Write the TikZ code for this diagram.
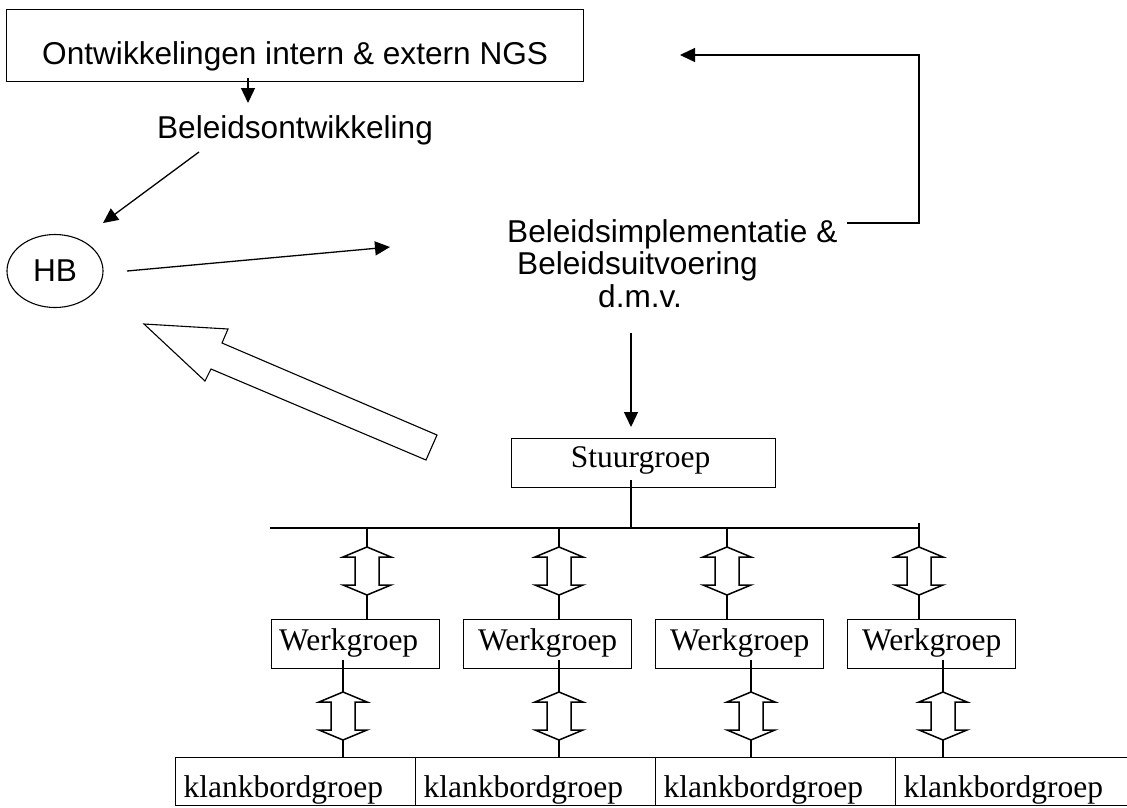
\documentclass[tikz,border=0pt]{standalone}
\usepackage{fontspec}
\setmainfont{Liberation Serif}
\newfontfamily\arialf{Liberation Sans}
\usetikzlibrary{arrows.meta,shapes.geometric}
\newcommand\myupdown[2]{%
  \draw[dbl] (#1,#2) -- ++(-24,10) -- ++(12,0) -- ++(0,28) -- ++(-12,0) -- ++(24,10)
     -- ++(24,-10) -- ++(-12,0) -- ++(0,-28) -- ++(12,0) -- cycle;}
\begin{document}
\begin{tikzpicture}[x=1pt,y=-1pt,
  ln/.style={line width=1.3pt},
  arr/.style={line width=1.3pt,-{Triangle[length=15pt,width=14pt]}},
  dbl/.style={line width=1.5pt, line join=miter},
  sans/.style={font=\arialf\fontsize{31.6}{32.5}\selectfont},
  serif/.style={font=\fontsize{31.5}{36}\selectfont},
  box/.style={draw, line width=1.3pt, rectangle},
  wbox/.style={box, serif, anchor=north west, minimum width=168pt, minimum height=49pt,
     inner xsep=0pt, inner ysep=4pt, text height=27pt, text depth=14pt},
  kcell/.style={box, serif, anchor=north west, minimum width=240pt, minimum height=48pt,
     text width=224pt, align=left, inner xsep=8pt, inner ysep=4pt, text height=36pt, text depth=4pt}
]
\useasboundingbox (0,0) rectangle (1127,807);

% top box
\node[box, sans, anchor=north west, minimum width=577pt, minimum height=72pt,
  inner xsep=0pt, inner ysep=4pt,
  text height=51pt, text depth=13pt] (top) at (6,9) {Ontwikkelingen intern \& extern NGS};

\node[sans, anchor=base, inner sep=0pt] (belo) at (295,138) {Beleidsontwikkeling};

\node[draw, ellipse, line width=1.1pt, minimum width=96pt, minimum height=73pt, inner sep=0pt,
  sans] (hb) at (55,271) {HB};

\node[sans, anchor=north west, align=left, inner sep=0pt] (impl) at (507,219)
  {Beleidsimplementatie \&\\\hspace*{10pt}Beleidsuitvoering\\\hspace*{91pt}d.m.v.};

\node[box, serif, anchor=north west, minimum width=264pt, minimum height=49pt,
  inner xsep=0pt, inner ysep=4pt, text height=25pt, text depth=16pt] (stuur) at (511,438) {Stuurgroep\hspace*{6pt}};

\node[wbox] (w1) at (271,619) {Werkgroep\hspace*{14pt}};
\node[wbox] (w2) at (463,619) {Werkgroep};
\node[wbox] (w3) at (655,619) {Werkgroep};
\node[wbox] (w4) at (847,619) {Werkgroep};

\node[kcell] (k1) at (175,757) {klankbordgroep};
\node[kcell] (k2) at (415,757) {klankbordgroep};
\node[kcell] (k3) at (655,757) {klankbordgroep};
\node[kcell] (k4) at (895,757) {klankbordgroep};

% connector end points
\coordinate (a1) at (248,78);  \coordinate (a2) at (248,103);
\coordinate (b1) at (199,152); \coordinate (b2) at (103,223);
\coordinate (c1) at (127,271); \coordinate (c2) at (390,247);
\coordinate (f1) at (847,223); \coordinate (f2) at (919,55); \coordinate (f3) at (680,55);
\coordinate (d1) at (631,333); \coordinate (d2) at (631,427);
\coordinate (s1) at (631,480); \coordinate (s2) at (631,528);
\coordinate (hl) at (270,528); \coordinate (hr) at (919,528);

\draw[arr] (a1) -- (a2);
\draw[arr] (b1) -- (b2);
\draw[arr] (c1) -- (c2);
\draw[arr] (f1) -| (f2) -- (f3);
\draw[arr] (d1) -- (d2);

% hollow arrow towards HB
\draw[line width=1.1pt, line join=miter, fill=white]
  (144,324) -- (228,329) -- (222,343) -- (437,435) -- (426,460) -- (211,369) -- (205,381) -- cycle;

% stuurgroep tree
\draw[ln] (s1) -- (s2);
\draw[ln] (hl) -- (hr);
\draw[ln] (919,523) -- (919,547);
\foreach \x in {367,559,727} { \draw[ln] (\x,528) -- (\x,547); }
\foreach \x in {367,559,727,919} {
  \myupdown{\x}{547}
  \draw[ln] (\x,595) -- (\x,619);
}
\foreach \x in {343,559,751,943} {
  \draw[ln] (\x,660) -- (\x,692);
  \myupdown{\x}{692}
  \draw[ln] (\x,740) -- (\x,757);
}
\end{tikzpicture}
\end{document}
